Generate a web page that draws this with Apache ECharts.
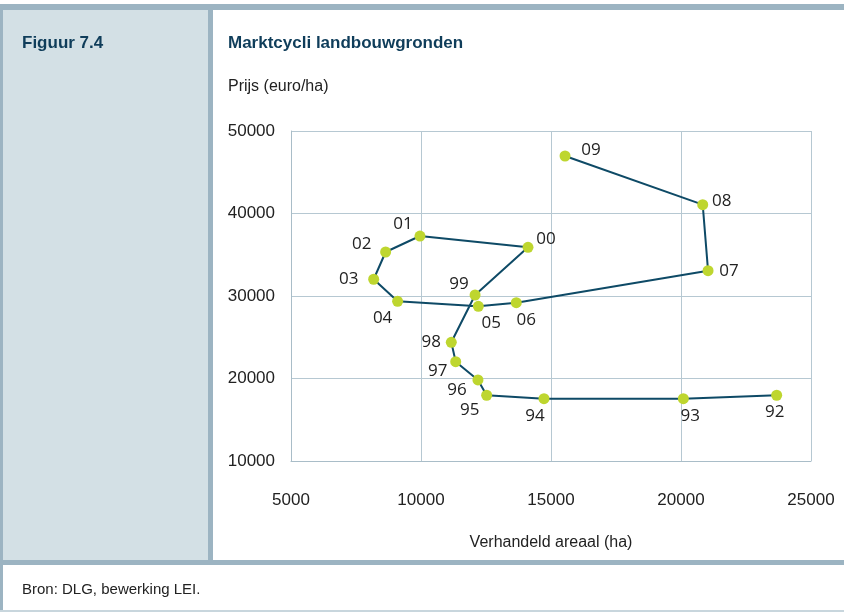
<!DOCTYPE html>
<html lang="nl">
<head>
    <meta charset="UTF-8">
    <title>Figuur 7.4</title>
    <script src="https://cdn.jsdelivr.net/npm/echarts@6/dist/echarts.min.js"></script>
    <style>
        html, body { margin: 0; padding: 0; background: #fff; }
    </style>
</head>
<body>
<div id="chart" style="width: 844px;height: 612px"></div>

<script type="text/javascript">
    // jaren (labels) en waarden, van 1992 t/m 2009
    var years = ['92', '93', '94', '95', '96', '97', '98', '99', '00', '01', '02', '03', '04', '05', '06', '07', '08', '09'];
    var areaal = [23680, 20090, 14730, 12525, 12190, 11335, 11165, 12080, 14115, 9960, 8640, 8180, 9100, 12205, 13665, 21040, 20835, 15540];
    var prijs = [17970, 17555, 17555, 17970, 19820, 22040, 24390, 30120, 35900, 37270, 35335, 32030, 29360, 28750, 29190, 33070, 41070, 46970];
    var xTicks = [5000, 10000, 15000, 20000, 25000];
    var yTicks = [10000, 20000, 30000, 40000, 50000];

    // plaats van de jaartallen t.o.v. het punt
    var labelOffset = {
        '92': [-2, 17], '93': [7, 17], '94': [-9, 17], '95': [-17, 15], '96': [-21, 10],
        '97': [-18, 9], '98': [-20, 0], '99': [-16, -11], '00': [18, -8], '01': [-17, -12],
        '02': [-24, -8], '03': [-25, 0], '04': [-15, 17], '05': [13, 17], '06': [10, 17],
        '07': [21, 0], '08': [19, -4], '09': [26, -6]
    };

    var stripe = '#9cb4c2';
    var panel = '#d3e0e5';
    var navy = '#0f3d5a';

    var points = years.map(function (y, i) {
        return {
            value: [areaal[i], prijs[i]],
            label: {
                show: true,
                formatter: y,
                position: 'inside',
                offset: labelOffset[y]
            }
        };
    });

    function plain(v) {
        return String(v);
    }

    var chart = echarts.init(document.getElementById('chart'));
    chart.setOption({
        backgroundColor: '#ffffff',
        animation: false,
        textStyle: {fontFamily: 'Liberation Sans'},
        graphic: [
            {type: 'rect', shape: {x: 0, y: 4, width: 844, height: 6}, style: {fill: stripe}, z: -10},
            {type: 'rect', shape: {x: 0, y: 4, width: 3, height: 608}, style: {fill: stripe}, z: -10},
            {type: 'rect', shape: {x: 3, y: 10, width: 205, height: 550}, style: {fill: panel}, z: -10},
            {type: 'rect', shape: {x: 208, y: 4, width: 5, height: 556}, style: {fill: stripe}, z: -10},
            {type: 'rect', shape: {x: 0, y: 560, width: 844, height: 5}, style: {fill: stripe}, z: -10},
            {type: 'rect', shape: {x: 0, y: 610, width: 844, height: 2}, style: {fill: '#c8d6dd'}, z: -10},
            {
                type: 'text', left: 22, top: 35,
                style: {text: 'Figuur 7.4', fill: navy, font: 'bold 17px "Liberation Sans"'}
            },
            {
                type: 'text', left: 228, top: 35,
                style: {text: 'Marktcycli landbouwgronden', fill: navy, font: 'bold 17px "Liberation Sans"'}
            },
            {
                type: 'text', left: 228, top: 79,
                style: {text: 'Prijs (euro/ha)', fill: '#222', font: '16px "Liberation Sans"'}
            },
            {
                type: 'text', left: 22, top: 582,
                style: {text: 'Bron: DLG, bewerking LEI.', fill: '#222', font: '15px "Liberation Sans"'}
            }
        ],
        grid: {
            left: 291,
            top: 131,
            width: 520,
            height: 330,
            containLabel: false
        },
        xAxis: {
            type: 'value',
            min: xTicks[0],
            max: xTicks[xTicks.length - 1],
            interval: xTicks[1] - xTicks[0],
            name: 'Verhandeld areaal (ha)',
            nameLocation: 'middle',
            nameGap: 74,
            nameTextStyle: {color: '#222', fontSize: 16},
            axisLine: {show: true, lineStyle: {color: '#a9bdc8', width: 1}},
            axisTick: {show: false},
            axisLabel: {color: '#222', fontSize: 17, margin: 31, formatter: plain},
            splitLine: {show: true, lineStyle: {color: '#b6c8d2', width: 1}}
        },
        yAxis: {
            type: 'value',
            min: yTicks[0],
            max: yTicks[yTicks.length - 1],
            interval: yTicks[1] - yTicks[0],
            axisLine: {show: true, lineStyle: {color: '#a9bdc8', width: 1}},
            axisTick: {show: false},
            axisLabel: {color: '#222', fontSize: 17, margin: 16, formatter: plain},
            splitLine: {show: true, lineStyle: {color: '#b6c8d2', width: 1}}
        },
        series: [
            {
                type: 'line',
                data: points,
                symbol: 'circle',
                symbolSize: 11,
                itemStyle: {color: '#bed62f'},
                lineStyle: {color: '#0e4a66', width: 2},
                label: {color: '#222', fontSize: 17, fontFamily: 'Open Sans'},
                emphasis: {disabled: true}
            }
        ]
    });
</script>
</body>
</html>
